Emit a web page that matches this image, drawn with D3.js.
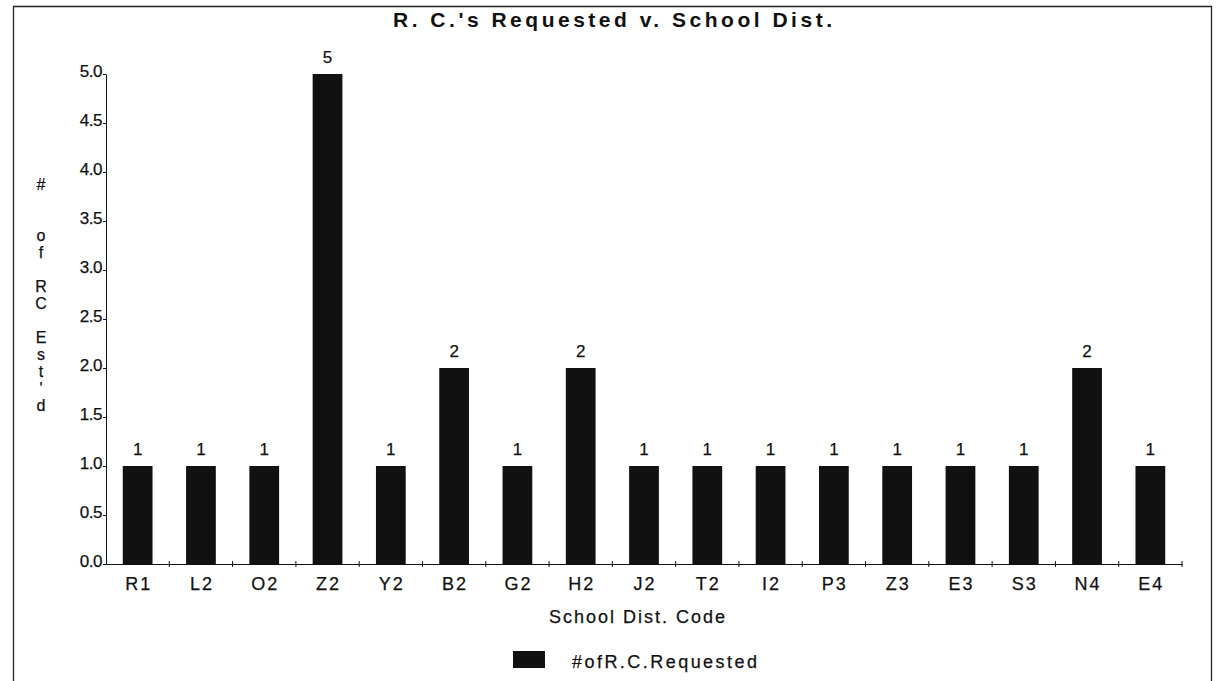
<!DOCTYPE html>
<html>
<head>
<meta charset="utf-8">
<script src="https://cdn.jsdelivr.net/npm/d3@7/dist/d3.min.js"></script>
<style>
  html, body { margin: 0; padding: 0; background: #fff; }
  svg { display: block; font-family: "Liberation Sans", Arial, sans-serif; }
  text.heavy { stroke: #111; stroke-width: 0.25px; }
</style>
</head>
<body>
<svg id="chart" width="1216" height="681"></svg>
<script>
// School district codes and number of R.C.'s requested for each
const districts = ["R1", "L2", "O2", "Z2", "Y2", "B2", "G2", "H2", "J2", "T2", "I2", "P3", "Z3", "E3", "S3", "N4", "E4"];
const requested = [1, 1, 1, 5, 1, 2, 1, 2, 1, 1, 1, 1, 1, 1, 1, 2, 1];
const yTicks = [0, 0.5, 1, 1.5, 2, 2.5, 3, 3.5, 4, 4.5, 5];
const yTitleLines = ["#", "", "", "o", "f", "", "R", "C", "", "E", "s", "t", "'", "d"];

const svg = d3.select("#chart");
const ink = "#111";
const font = "Liberation Sans, Arial, sans-serif";

// frame around the chart
svg.append("path")
  .attr("d", "M13.5,690 L13.5,6.5 L1211.5,6.5 L1211.5,690")
  .attr("fill", "none").attr("stroke", "#222").attr("stroke-width", 1.3);

const plot = { left: 106, right: 1182, top: 74, bottom: 564 };

const x = d3.scaleBand().domain(districts).range([plot.left, plot.right]).paddingInner(0.53).paddingOuter(0.265);
const y = d3.scaleLinear().domain([0, 5]).range([plot.bottom, plot.top]);

// bars
svg.append("g").selectAll("rect").data(districts).join("rect")
  .attr("x", d => x(d))
  .attr("y", (d, i) => y(requested[i]))
  .attr("width", x.bandwidth())
  .attr("height", (d, i) => y(0) - y(requested[i]))
  .attr("fill", ink);

// value labels
svg.append("g").selectAll("text").data(districts).join("text")
  .attr("class", "heavy")
  .attr("x", d => x(d) + x.bandwidth() / 2)
  .attr("y", (d, i) => y(requested[i]) - 11)
  .attr("text-anchor", "middle")
  .attr("font-size", 17).attr("fill", ink)
  .text((d, i) => requested[i]);

// y axis
const yAxis = svg.append("g").attr("transform", `translate(${plot.left},0)`)
  .call(d3.axisLeft(y).tickValues(yTicks).tickFormat(d3.format(".1f")).tickSize(3).tickSizeOuter(0));
yAxis.select(".domain").attr("stroke", ink);
yAxis.selectAll(".tick line").attr("stroke", ink);
yAxis.selectAll(".tick text").attr("class", "heavy").attr("font-size", 17).attr("fill", ink).attr("font-family", font)
  .attr("x", -4).attr("dy", "0.15em").attr("letter-spacing", "-0.5px");

// x axis with ticks between categories
const xAxis = svg.append("g").attr("transform", `translate(0,${plot.bottom})`)
  .call(d3.axisBottom(x).tickSize(0).tickSizeOuter(0));
xAxis.select(".domain").attr("stroke", ink);
xAxis.selectAll(".tick text").attr("class", "heavy").attr("font-size", 18).attr("fill", ink).attr("font-family", font)
  .attr("y", 0).attr("dy", 26).attr("letter-spacing", "2px").attr("dx", "1px");
const step = x.step();
svg.append("g").selectAll("line").data(d3.range(1, districts.length + 1)).join("line")
  .attr("x1", i => plot.left + i * step).attr("x2", i => plot.left + i * step)
  .attr("y1", plot.bottom - 3).attr("y2", plot.bottom + 3)
  .attr("stroke", ink);

// title
svg.append("text").attr("x", 393).attr("y", 27)
  .attr("font-size", 21).attr("font-weight", "bold").attr("fill", ink)
  .attr("textLength", 439).attr("lengthAdjust", "spacing")
  .text("R. C.'s Requested v. School Dist.");

// axis titles
svg.append("text").attr("class", "heavy").attr("x", 549).attr("y", 623)
  .attr("font-size", 18).attr("fill", ink)
  .attr("textLength", 176).attr("lengthAdjust", "spacing")
  .text("School Dist. Code");

svg.append("g").selectAll("text").data(yTitleLines).join("text")
  .attr("class", "heavy")
  .attr("x", 41).attr("y", (d, i) => 190 + i * 17).attr("text-anchor", "middle")
  .attr("font-size", 16).attr("fill", ink)
  .text(d => d);

// legend
svg.append("rect").attr("x", 513).attr("y", 651).attr("width", 32).attr("height", 17).attr("fill", ink);
svg.append("text").attr("class", "heavy").attr("x", 572).attr("y", 668).attr("font-size", 18).attr("fill", ink)
  .attr("textLength", 185).attr("lengthAdjust", "spacing")
  .text("#ofR.C.Requested");
</script>
</body>
</html>
